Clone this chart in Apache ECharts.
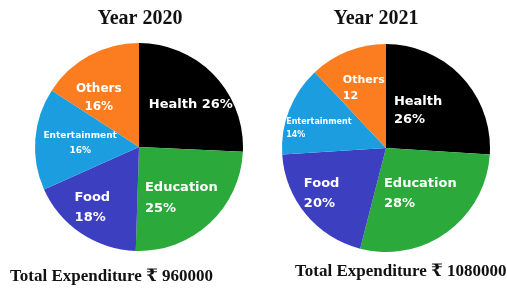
<!DOCTYPE html>
<html>
<head>
<meta charset="utf-8">
<script src="https://cdn.jsdelivr.net/npm/echarts@6/dist/echarts.min.js"></script>
<style>
  html, body { margin: 0; padding: 0; background: #fff; }
  #box { width: 507px; height: 289px; }
</style>
</head>
<body>
<div id="box"></div>
<script>
// data
const categories = ['Health', 'Education', 'Food', 'Entertainment', 'Others'];
const values2020 = [26, 25, 18, 16, 16];
const values2021 = [26, 28, 20, 14, 12];
const labels2020 = ['26%', '25%', '18%', '16%', '16%'];
const labels2021 = ['26%', '28%', '20%', '14%', '12'];
const totals = ['Total Expenditure ₹ 960000', 'Total Expenditure ₹ 1080000'];
const years = ['Year 2020', 'Year 2021'];

const colors = ['#000000', '#2ca93b', '#3c3fc0', '#1c9de0', '#fb7d1f'];

// label placement per slice (offset from echarts' inside point)
const labelStyle2020 = [
  { offset: [12, -4], align: 'center', sep: ' ' },
  { offset: [5, 11], align: 'left', lineHeight: 21 },
  { offset: [-16, 15], align: 'left', lineHeight: 20 },
  { offset: [-4, 0], align: 'center', lineHeight: 15, fontSize: 9 },
  { offset: [-14, -1], align: 'center', lineHeight: 18, fontSize: 12 }
];
const labelStyle2021 = [
  { offset: [-8, 0], align: 'left', lineHeight: 18 },
  { offset: [2, 1], align: 'left', lineHeight: 20 },
  { offset: [-22, 11], align: 'left', lineHeight: 20 },
  { offset: [-16, 1], align: 'left', lineHeight: 13, fontSize: 8 },
  { offset: [-2, -9], align: 'left', lineHeight: 16, fontSize: 11 }
];

function buildData(values, labels, styles) {
  return categories.map((name, i) => {
    const s = styles[i];
    const text = s.sep ? [name + s.sep + labels[i]] : [name, labels[i]];
    return {
      name: name,
      value: values[i],
      itemStyle: { color: colors[i] },
      label: {
        formatter: text.map(t => '{a|' + t + '}').join('\n'),
        offset: s.offset,
        rich: {
          a: {
            align: s.align,
            color: '#fff',
            fontFamily: 'DejaVu Sans',
            fontWeight: 'bold',
            fontSize: s.fontSize || 13,
            lineHeight: s.lineHeight || 18
          }
        }
      }
    };
  });
}

const pieBase = {
  type: 'pie',
  radius: 104,
  startAngle: 90,
  clockwise: true,
  silent: true,
  avoidLabelOverlap: false,
  label: {
    show: true,
    position: 'inside',
    color: '#fff',
    fontFamily: 'DejaVu Sans',
    fontWeight: 'bold',
    fontSize: 13
  },
  labelLine: { show: false },
  itemStyle: { borderWidth: 0 }
};

const titleFont = { fontFamily: 'Liberation Serif, DejaVu Serif, serif', fontWeight: 'bold', color: '#111' };

const option = {
  animation: false,
  title: [
    { text: years[0], left: 140, top: 9, padding: 0, textAlign: 'center', textStyle: Object.assign({ fontSize: 20 }, titleFont) },
    { text: years[1], left: 376, top: 9, padding: 0, textAlign: 'center', textStyle: Object.assign({ fontSize: 20 }, titleFont) },
    { text: totals[0], left: 10, top: 268, padding: 0, textStyle: Object.assign({ fontSize: 17 }, titleFont) },
    { text: totals[1], left: 295, top: 263, padding: 0, textStyle: Object.assign({ fontSize: 17 }, titleFont) }
  ],
  series: [
    Object.assign({}, pieBase, { center: [139, 147], data: buildData(values2020, labels2020, labelStyle2020) }),
    Object.assign({}, pieBase, { center: [386, 148], data: buildData(values2021, labels2021, labelStyle2021) })
  ]
};

const chart = echarts.init(document.getElementById('box'));
chart.setOption(option);
</script>
</body>
</html>
